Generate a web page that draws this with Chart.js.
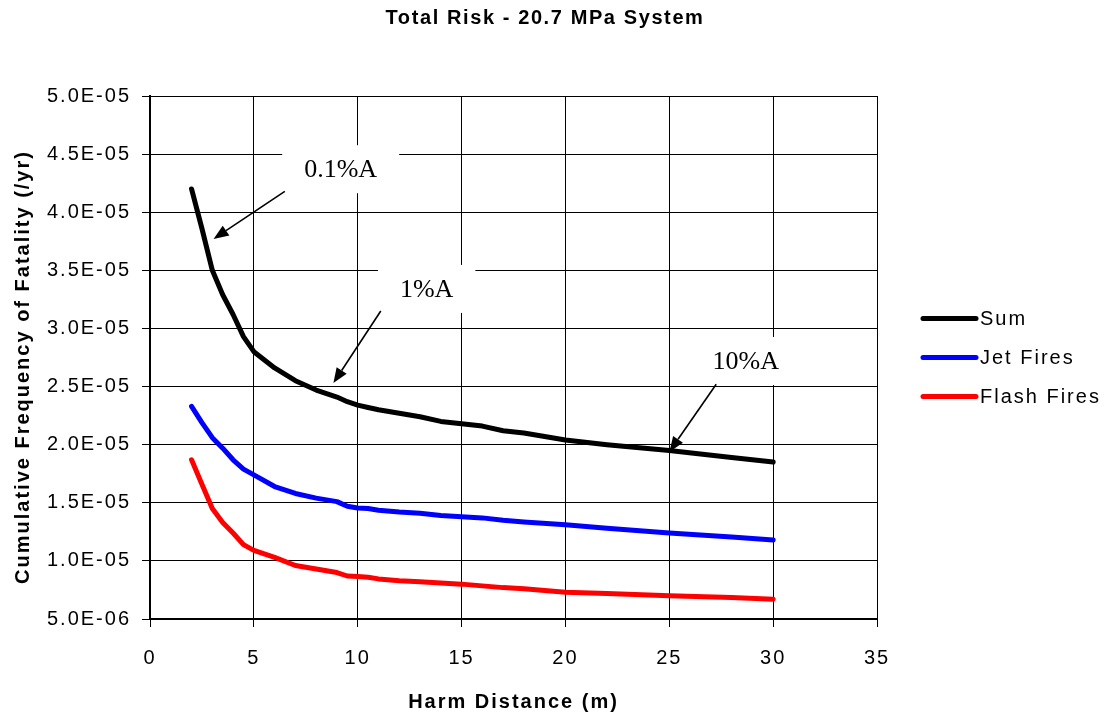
<!DOCTYPE html>
<html>
<head>
<meta charset="utf-8">
<title>Total Risk - 20.7 MPa System</title>
<script src="https://cdn.jsdelivr.net/npm/chart.js@4.4.1/dist/chart.umd.min.js"></script>
<style>
    html, body { margin: 0; padding: 0; background: #fff; }
</style>
</head>
<body>
<canvas id="total_risk" width="1108" height="714"></canvas>
<script>
// harm distance (m)
const distance = [2, 2.5, 3, 3.5, 4, 4.5, 5, 6, 7, 8, 9, 9.5, 10, 10.5, 11, 12, 13, 14, 15, 16, 17, 18, 20, 22, 25, 28, 30];
// cumulative frequency of fatality (/yr)
const sumRisk = [4.20e-5, 3.86e-5, 3.50e-5, 3.29e-5, 3.12e-5, 2.93e-5, 2.80e-5, 2.66e-5, 2.55e-5, 2.47e-5, 2.41e-5, 2.37e-5, 2.34e-5, 2.32e-5, 2.30e-5, 2.27e-5, 2.24e-5, 2.20e-5, 2.18e-5, 2.16e-5, 2.12e-5, 2.10e-5, 2.04e-5, 2.00e-5, 1.95e-5, 1.89e-5, 1.85e-5];
const jetFires = [2.33e-5, 2.19e-5, 2.06e-5, 1.97e-5, 1.87e-5, 1.79e-5, 1.74e-5, 1.64e-5, 1.58e-5, 1.54e-5, 1.51e-5, 1.47e-5, 1.455e-5, 1.45e-5, 1.435e-5, 1.42e-5, 1.41e-5, 1.39e-5, 1.38e-5, 1.37e-5, 1.35e-5, 1.335e-5, 1.31e-5, 1.28e-5, 1.24e-5, 1.205e-5, 1.18e-5];
const flashFires = [1.87e-5, 1.66e-5, 1.45e-5, 1.33e-5, 1.24e-5, 1.14e-5, 1.09e-5, 1.03e-5, 9.6e-6, 9.3e-6, 9.0e-6, 8.7e-6, 8.65e-6, 8.6e-6, 8.45e-6, 8.3e-6, 8.2e-6, 8.1e-6, 8.0e-6, 7.85e-6, 7.7e-6, 7.6e-6, 7.3e-6, 7.2e-6, 7.0e-6, 6.85e-6, 6.7e-6];

const seriesNames = ['Sum', 'Jet Fires', 'Flash Fires'];
const seriesColors = ['#000000', '#0000ff', '#ff0000'];

// callouts: text centre and arrow, in data units
const notes = [
    { text: '0.1%A', at: [9.18, 4.37e-5], from: [6.49, 4.18e-5], to: [3.06, 3.77e-5] },
    { text: '1%A', at: [13.32, 3.34e-5], from: [11.11, 3.15e-5], to: [8.83, 2.53e-5] },
    { text: '10%A', at: [28.68, 2.72e-5], from: [27.26, 2.52e-5], to: [25.01, 1.94e-5] }
];

const SANS = 'Arial, "Liberation Sans", sans-serif';

function points(ys) {
    return distance.map(function (x, i) { return { x: x, y: ys[i] }; });
}

function sciLabel(v) {
    return v.toExponential(1).toUpperCase().replace(/E-(\d)$/, 'E-0$1');
}

const extras = {
    id: 'extras',
    beforeDraw: function (chart) {
        // the original uses widely spaced sans text
        chart.ctx.letterSpacing = '2px';
    },
    afterDatasetsDraw: function (chart) {
        const ctx = chart.ctx;
        const xs = chart.scales.x, ys = chart.scales.y;
        ctx.save();
        ctx.letterSpacing = '0px';
        ctx.font = '26px "Liberation Serif", "Times New Roman", serif';
        ctx.textAlign = 'center';
        ctx.textBaseline = 'middle';
        notes.forEach(function (n) {
            const cx = xs.getPixelForValue(n.at[0]);
            const cy = ys.getPixelForValue(n.at[1]);
            const w = ctx.measureText(n.text).width + 44;
            ctx.fillStyle = '#fff';
            ctx.fillRect(cx - w / 2, cy - 24, w, 48);
            ctx.fillStyle = '#000';
            ctx.fillText(n.text, cx, cy + 1);

            const x1 = xs.getPixelForValue(n.from[0]), y1 = ys.getPixelForValue(n.from[1]);
            const x2 = xs.getPixelForValue(n.to[0]), y2 = ys.getPixelForValue(n.to[1]);
            const a = Math.atan2(y2 - y1, x2 - x1);
            const len = 15, half = 6;
            const bx = x2 - len * Math.cos(a), by = y2 - len * Math.sin(a);
            ctx.strokeStyle = '#000';
            ctx.lineWidth = 1.6;
            ctx.beginPath();
            ctx.moveTo(x1, y1);
            ctx.lineTo(bx, by);
            ctx.stroke();
            ctx.beginPath();
            ctx.moveTo(x2, y2);
            ctx.lineTo(bx + half * Math.sin(a), by - half * Math.cos(a));
            ctx.lineTo(bx - half * Math.sin(a), by + half * Math.cos(a));
            ctx.closePath();
            ctx.fill();
        });
        ctx.restore();
    },
    afterDraw: function (chart) {
        const ctx = chart.ctx;
        const area = chart.chartArea;
        ctx.save();
        // title
        ctx.fillStyle = '#000';
        ctx.letterSpacing = '1.6px';
        ctx.font = 'bold 20px ' + SANS;
        ctx.textAlign = 'center';
        ctx.textBaseline = 'middle';
        ctx.fillText('Total Risk - 20.7 MPa System', 545, 18);
        // y axis title
        ctx.letterSpacing = '2px';
        ctx.save();
        ctx.translate(23, 367);
        ctx.rotate(-Math.PI / 2);
        ctx.fillText('Cumulative Frequency of Fatality (/yr)', 0, 0);
        ctx.restore();
        // legend
        ctx.font = '20px ' + SANS;
        ctx.textAlign = 'left';
        const mid = (area.top + area.bottom) / 2;
        chart.data.datasets.forEach(function (ds, i) {
            const y = mid + (i - 1) * 39;
            ctx.strokeStyle = ds.borderColor;
            ctx.lineWidth = 5;
            ctx.lineCap = 'round';
            ctx.beginPath();
            ctx.moveTo(area.right + 46, y);
            ctx.lineTo(area.right + 99, y);
            ctx.stroke();
            ctx.fillStyle = '#000';
            ctx.fillText(ds.label, area.right + 103, y + 1);
        });
        ctx.restore();
    }
};

new Chart(document.getElementById('total_risk'), {
    type: 'scatter',
    data: {
        datasets: [
            { label: seriesNames[0], data: points(sumRisk), borderColor: seriesColors[0] },
            { label: seriesNames[1], data: points(jetFires), borderColor: seriesColors[1] },
            { label: seriesNames[2], data: points(flashFires), borderColor: seriesColors[2] }
        ].map(function (ds) {
            return Object.assign(ds, {
                showLine: true, borderWidth: 5, pointRadius: 0, tension: 0,
                borderCapStyle: 'round', borderJoinStyle: 'round', backgroundColor: ds.borderColor
            });
        })
    },
    options: {
        responsive: false,
        animation: false,
        layout: { padding: { top: 96, right: 231, bottom: 0, left: 0 } },
        plugins: { legend: { display: false }, title: { display: false }, tooltip: { enabled: false } },
        scales: {
            x: {
                type: 'linear', min: 0, max: 35,
                ticks: { stepSize: 5, color: '#000', padding: 19, font: { size: 20, family: SANS } },
                grid: { color: '#000', lineWidth: 1, tickLength: 8 },
                border: { color: '#000', width: 2 },
                title: { display: true, text: 'Harm Distance (m)', color: '#000', padding: { top: 5, bottom: 0 },
                    font: { size: 20, weight: 'bold', family: SANS } },
                afterFit: function (s) { s.height = 95; }
            },
            y: {
                min: 5e-6, max: 5e-5,
                ticks: { stepSize: 5e-6, color: '#000', padding: 11, callback: sciLabel,
                    font: { size: 20, family: SANS } },
                grid: { color: '#000', lineWidth: 1, tickLength: 8 },
                border: { color: '#000', width: 2 },
                afterFit: function (s) { s.width = 150; }
            }
        }
    },
    plugins: [extras]
});
</script>
</body>
</html>
